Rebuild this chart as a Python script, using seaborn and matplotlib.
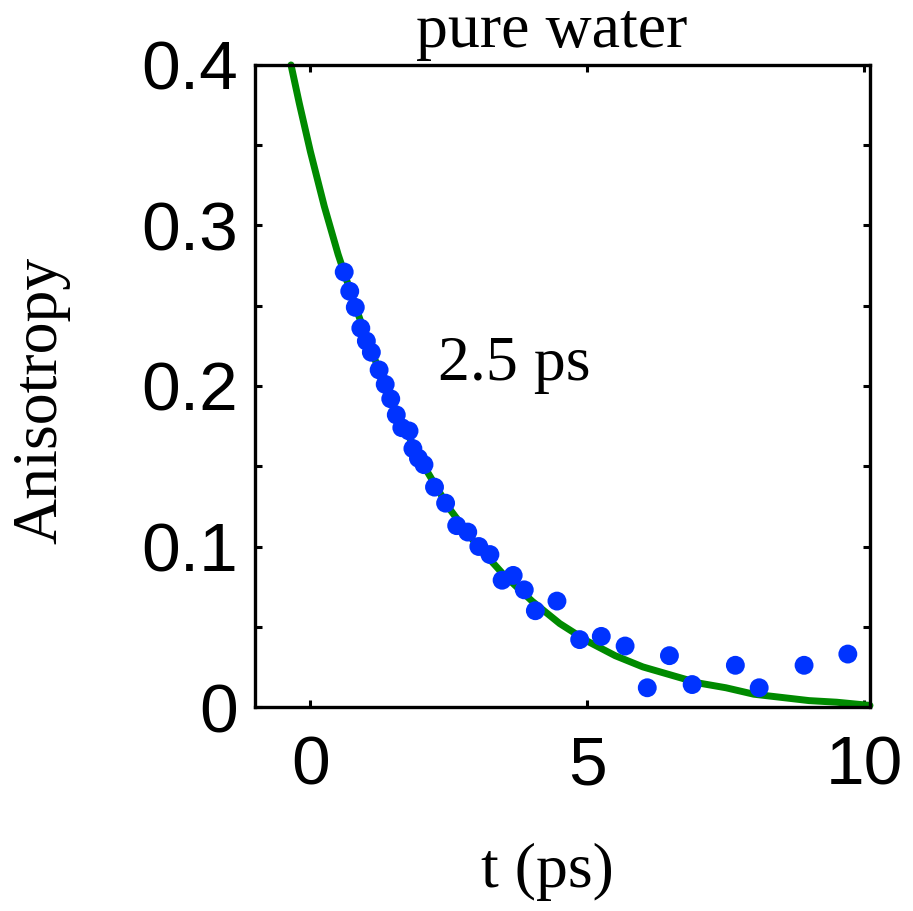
"""
Anisotropy decay of pure water: measured points and the single exponential fit (2.5 ps).
"""

import matplotlib
matplotlib.use("Agg")
import matplotlib.pyplot as plt
import seaborn as sns
import pandas as pd

t_data = [0.61, 0.71, 0.81, 0.91, 1.01, 1.10, 1.24, 1.35, 1.45, 1.55, 1.65, 1.78,
          1.85, 1.95, 2.05, 2.24, 2.44, 2.64, 2.84, 3.04, 3.24, 3.46, 3.66, 3.86,
          4.06, 4.45, 4.86, 5.25, 5.68, 6.08, 6.48, 6.89, 7.67, 8.10, 8.91, 9.70]
r_data = [0.271, 0.259, 0.249, 0.236, 0.228, 0.221, 0.210, 0.201, 0.192, 0.182,
          0.174, 0.172, 0.161, 0.155, 0.151, 0.137, 0.127, 0.113, 0.109, 0.100,
          0.095, 0.079, 0.082, 0.073, 0.060, 0.066, 0.042, 0.044, 0.038, 0.012,
          0.032, 0.014, 0.026, 0.012, 0.026, 0.033]

# Fit curve
t_fit = [-0.35, -0.2, 0.0, 0.25, 0.5, 0.75, 1.0, 1.25, 1.5, 2.0, 2.5, 3.0, 3.5,
         4.0, 4.5, 5.0, 5.5, 6.0, 6.5, 7.0, 7.5, 8.0, 8.5, 9.0, 9.5, 10.1]
r_fit = [0.400, 0.376, 0.346, 0.312, 0.282, 0.256, 0.231, 0.209, 0.188, 0.153,
         0.124, 0.101, 0.082, 0.066, 0.052, 0.041, 0.032, 0.025, 0.020, 0.015,
         0.012, 0.008, 0.006, 0.004, 0.003, 0.001]

x_ticks = [0, 5, 10]
y_ticks = [0, 0.1, 0.2, 0.3, 0.4]
y_tick_labels = ["0", "0.1", "0.2", "0.3", "0.4"]

points = pd.DataFrame({"t": t_data, "r": r_data})
fit = pd.DataFrame({"t": t_fit, "r": r_fit})

sns.set_theme(style="ticks")
plt.rcParams["font.family"] = ["Liberation Sans", "DejaVu Sans"]
plt.rcParams["text.color"] = "black"
plt.rcParams["axes.labelcolor"] = "black"

fig = plt.figure(figsize=(9.13, 9.11), dpi=100)
ax = fig.add_axes([0.2793, 0.2239, 0.6736, 0.7048])

sns.lineplot(data=fit, x="t", y="r", ax=ax, color="#008a00", linewidth=5,
             zorder=2, clip_on=False)
sns.scatterplot(data=points, x="t", y="r", ax=ax, color="#0033ff", s=185,
                edgecolor="none", zorder=3)

ax.set_xlim(-1, 10.1)
ax.set_ylim(0, 0.4)
ax.set_xticks(x_ticks)
ax.set_yticks(y_ticks)
ax.set_yticklabels(y_tick_labels)
ax.set_yticks([0.05, 0.15, 0.25, 0.35], minor=True)

for side in ["left", "right", "top", "bottom"]:
    ax.spines[side].set_linewidth(2.4)
    ax.spines[side].set_color("black")

ax.tick_params(axis="both", which="both", direction="in", top=True, right=True,
               length=5, width=2.2, colors="black", labelcolor="black")
ax.tick_params(axis="x", labelsize=50, pad=20)
ax.tick_params(axis="y", labelsize=50, pad=12)

serif = ["Liberation Serif", "DejaVu Serif"]
ax.set_xlabel("t (ps)", fontsize=46, family=serif)
ax.set_ylabel("Anisotropy", fontsize=46, family=serif)
ax.xaxis.set_label_coords(0.475, -0.212)
ax.yaxis.set_label_coords(-0.30, 0.478)
ax.text(0.483, 1.028, "pure water", transform=ax.transAxes, ha="center",
        va="baseline", fontsize=46, family=serif)
ax.text(2.3, 0.204, "2.5 ps", ha="left", va="baseline", fontsize=46, family=serif)

fig.savefig("out.png", dpi=100, facecolor="white")
